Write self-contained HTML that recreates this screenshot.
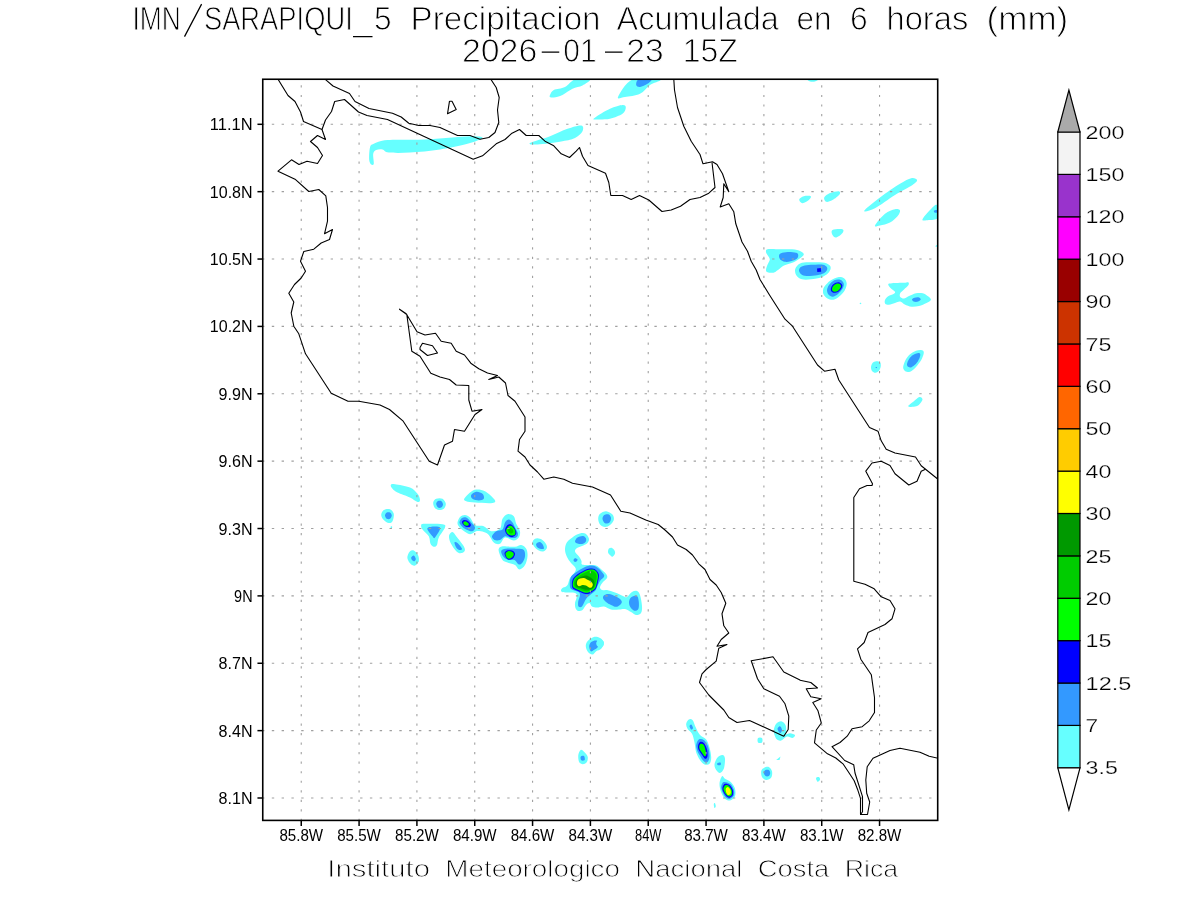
<!DOCTYPE html>
<html><head><meta charset="utf-8"><title>IMN SARAPIQUI_5</title>
<style>
html,body{margin:0;padding:0;background:#fff}
body{width:1200px;height:900px;overflow:hidden}
svg{display:block}
text{font-family:"Liberation Sans",sans-serif}
.t{fill:#000;stroke:#fff;stroke-width:.95px}
.a{fill:#000}
.c{fill:#000;stroke:#fff;stroke-width:.25px}
.f{fill:#000;stroke:#fff;stroke-width:.85px}
</style></head><body>
<svg width="1200" height="900" viewBox="0 0 1200 900">
<rect width="1200" height="900" fill="#fff"/>
<defs><clipPath id="m"><rect x="262.75" y="79.25" width="674.95" height="741.15"/></clipPath></defs>
<g clip-path="url(#m)" stroke="none">
<path fill="#66ffff" d="M370.0,147.5C370.8,144.8 370.8,145.0 373.8,143.8C376.7,142.5 379.0,140.7 387.5,140.0C396.0,139.3 411.2,140.1 425.0,139.5C438.8,138.9 460.4,136.5 470.0,136.2C479.6,136.0 482.9,136.8 482.5,138.0C482.1,139.2 474.6,141.8 467.5,143.8C460.4,145.7 449.6,148.0 440.0,149.5C430.4,151.0 418.5,152.0 410.0,152.5C401.5,153.0 393.3,153.0 388.8,152.5C384.2,152.0 384.6,149.9 382.5,149.5C380.4,149.1 377.8,149.3 376.2,150.0C374.7,150.7 373.7,151.5 373.2,153.8C372.8,156.0 374.1,162.0 373.8,163.8C373.4,165.5 372.0,165.1 371.2,164.5C370.5,163.9 369.5,162.8 369.2,160.0C369.0,157.2 369.2,150.2 370.0,147.5Z"/>
<path fill="#66ffff" d="M550.0,95.0C550.6,93.8 551.2,91.3 553.8,90.0C556.2,88.7 561.5,88.8 565.0,87.0C568.5,85.2 570.8,80.8 575.0,79.5C579.2,78.2 588.8,78.5 590.0,79.5C591.2,80.5 585.4,84.0 582.5,85.5C579.6,87.0 575.8,87.2 572.5,88.8C569.2,90.3 565.6,93.5 562.5,95.0C559.4,96.5 555.8,97.2 553.8,97.5C551.7,97.8 550.6,97.4 550.0,97.0C549.4,96.6 549.4,96.2 550.0,95.0Z"/>
<path fill="#66ffff" d="M618.0,97.0C619.2,94.1 625.5,82.4 632.5,79.5C639.5,76.6 657.1,78.6 660.0,79.5C662.9,80.4 653.3,82.6 650.0,85.0C646.7,87.4 644.2,91.8 640.0,93.8C635.8,95.8 628.7,96.5 625.0,97.0C621.3,97.5 616.8,99.9 618.0,97.0Z"/>
<path fill="#3399ff" d="M636.2,85.0C636.0,83.8 636.2,80.4 638.8,79.5C641.2,78.6 649.8,78.8 651.2,79.5C652.7,80.2 649.4,82.5 647.5,83.8C645.6,85.0 641.9,86.8 640.0,87.0C638.1,87.2 636.5,86.2 636.2,85.0Z"/>
<path fill="#66ffff" d="M594.5,118.0C596.8,116.2 605.3,110.9 610.0,108.8C614.7,106.6 619.9,105.2 622.5,105.0C625.1,104.8 625.8,106.0 625.8,107.5C625.8,109.0 625.1,111.9 622.5,113.8C619.9,115.6 614.4,117.8 610.0,118.8C605.6,119.7 598.8,119.6 596.2,119.5C593.7,119.4 592.2,119.8 594.5,118.0Z"/>
<path fill="#66ffff" d="M530.0,143.0C532.1,141.6 543.8,138.6 550.0,136.2C556.2,133.9 562.3,130.5 567.5,128.8C572.7,127.0 578.8,125.1 581.2,125.5C583.8,125.9 583.5,129.2 582.5,131.2C581.5,133.3 578.3,136.3 575.0,138.0C571.7,139.7 568.8,140.2 562.5,141.2C556.2,142.3 542.9,144.2 537.5,144.5C532.1,144.8 527.9,144.4 530.0,143.0Z"/>
<path fill="#66ffff" d="M808.0,79.5C809.2,79.2 816.3,79.2 817.5,79.5C818.7,79.8 816.2,81.2 815.0,81.5C813.8,81.8 811.2,81.8 810.0,81.5C808.8,81.2 806.8,79.8 808.0,79.5Z"/>
<path fill="#66ffff" d="M799.2,199.5C799.5,198.3 801.8,196.8 803.8,196.2C805.7,195.7 809.9,195.6 810.8,196.2C811.6,196.9 810.1,198.8 808.8,200.0C807.4,201.2 804.1,203.3 802.5,203.2C800.9,203.2 799.0,200.7 799.2,199.5Z"/>
<path fill="#66ffff" d="M824.2,197.5C824.9,196.0 827.6,194.0 830.0,193.0C832.4,192.0 837.2,191.0 838.8,191.2C840.3,191.5 840.5,193.0 839.5,194.5C838.5,196.0 834.7,198.8 832.5,200.0C830.3,201.2 827.6,202.2 826.2,201.8C824.9,201.3 823.6,199.0 824.2,197.5Z"/>
<path fill="#66ffff" d="M864.2,210.8C865.1,209.0 874.0,202.0 880.0,197.5C886.0,193.0 894.8,187.0 900.0,183.8C905.2,180.5 908.4,178.9 911.2,178.2C914.1,177.6 916.8,178.9 917.0,180.0C917.2,181.1 916.2,182.5 912.5,185.0C908.8,187.5 901.2,191.1 895.0,195.0C888.8,198.9 880.1,205.6 875.0,208.2C869.9,210.9 863.4,212.5 864.2,210.8Z"/>
<path fill="#66ffff" d="M875.0,225.5C875.8,223.5 881.7,216.5 885.0,213.8C888.3,211.0 892.5,209.8 895.0,209.2C897.5,208.7 899.6,209.3 900.0,210.5C900.4,211.7 899.2,214.2 897.5,216.2C895.8,218.2 892.9,221.0 890.0,222.5C887.1,224.0 882.5,225.0 880.0,225.5C877.5,226.0 874.2,227.5 875.0,225.5Z"/>
<path fill="#66ffff" d="M922.5,219.2C923.3,217.0 931.2,208.4 933.8,206.2C936.2,204.1 936.9,204.3 937.5,206.2C938.1,208.2 939.0,215.7 937.5,218.0C936.0,220.3 931.2,219.8 928.8,220.0C926.2,220.2 921.7,221.5 922.5,219.2Z"/>
<path fill="#3399ff" d="M934.0,210.5C934.4,210.1 936.5,209.7 937.0,210.0C937.5,210.3 937.4,212.1 937.0,212.5C936.6,212.9 935.0,212.8 934.5,212.5C934.0,212.2 933.6,210.9 934.0,210.5Z"/>
<path fill="#66ffff" d="M832.5,230.0C834.2,229.0 840.8,228.8 842.5,229.2C844.2,229.8 843.5,231.6 842.5,233.0C841.5,234.4 837.9,237.2 836.2,237.5C834.6,237.8 833.1,236.2 832.5,235.0C831.9,233.8 830.8,231.0 832.5,230.0Z"/>
<path fill="#66ffff" d="M935.0,246.2 L937.5,244.5 L937.5,247.0Z"/>
<path fill="#66ffff" d="M908.2,406.2C908.2,405.3 911.9,402.8 913.8,401.2C915.6,399.7 918.0,397.3 919.5,397.0C921.0,396.7 922.6,398.2 922.5,399.5C922.4,400.8 920.2,403.8 918.8,405.0C917.3,406.2 915.5,406.5 913.8,406.8C912.0,407.0 908.2,407.2 908.2,406.2Z"/>
<path fill="#66ffff" d="M766.0,252.0C766.0,251.1 765.5,249.8 767.5,249.3C769.5,248.9 773.9,249.3 778.0,249.3C782.1,249.3 788.5,249.0 792.2,249.3C796.0,249.6 798.6,250.4 800.5,251.2C802.4,252.1 803.8,253.1 803.8,254.2C803.8,255.4 802.3,256.6 800.5,258.0C798.7,259.4 795.8,261.2 793.0,262.5C790.2,263.8 786.5,264.2 784.0,265.5C781.5,266.8 779.8,268.8 778.0,270.0C776.2,271.2 775.2,272.3 773.5,272.7C771.8,273.1 768.8,272.7 767.5,272.2C766.2,271.8 766.0,271.2 766.0,270.0C766.0,268.8 766.9,266.5 767.5,264.8C768.1,263.0 769.8,261.1 769.8,259.5C769.8,257.9 768.1,256.2 767.5,255.0C766.9,253.8 766.0,252.9 766.0,252.0Z"/>
<path fill="#3399ff" d="M779.0,255.8C779.2,254.7 779.5,253.8 781.0,253.2C782.5,252.6 785.2,252.1 787.8,252.0C790.2,251.9 794.2,252.2 796.0,252.8C797.8,253.2 798.1,254.0 798.2,255.0C798.4,256.0 798.0,257.7 796.8,258.8C795.5,259.8 792.8,260.8 790.8,261.3C788.8,261.8 786.5,262.1 784.8,261.8C783.0,261.4 781.2,260.5 780.2,259.5C779.3,258.5 778.9,256.8 779.0,255.8Z"/>
<path fill="#66ffff" d="M795.0,270.8C795.0,269.1 795.6,267.6 796.8,266.2C797.9,264.9 799.1,263.5 802.0,262.8C804.9,262.1 810.2,262.2 814.0,262.2C817.8,262.2 821.9,262.2 824.5,262.8C827.1,263.4 828.8,264.4 829.8,265.5C830.8,266.6 830.9,267.9 830.5,269.2C830.1,270.6 829.0,272.4 827.5,273.8C826.0,275.1 824.2,276.3 821.5,277.2C818.8,278.1 814.2,278.9 811.0,279.3C807.8,279.7 804.4,279.9 802.0,279.3C799.6,278.8 797.9,277.4 796.8,276.0C795.6,274.6 795.0,272.4 795.0,270.8Z"/>
<path fill="#3399ff" d="M799.0,270.8C798.9,269.6 799.5,267.9 800.8,267.0C802.0,266.1 804.0,265.6 806.5,265.2C809.0,264.8 812.8,264.8 815.5,264.8C818.2,264.7 821.1,264.4 823.0,264.8C824.9,265.1 826.1,266.1 826.8,267.0C827.4,267.9 827.5,268.9 827.0,270.0C826.5,271.1 825.4,272.4 823.8,273.3C822.1,274.2 819.9,274.8 817.0,275.2C814.1,275.7 809.1,276.2 806.5,276.0C803.9,275.8 802.5,275.1 801.2,274.2C800.0,273.3 799.1,271.9 799.0,270.8Z"/>
<path fill="#0000ff" d="M817.0,268.5 L820.8,268.1 L821.2,271.8 L817.3,271.9Z"/>
<path fill="#66ffff" d="M823.0,291.0C823.1,289.6 823.2,288.2 824.5,286.5C825.8,284.8 828.2,282.1 830.5,280.5C832.8,278.9 835.8,277.6 838.0,277.2C840.2,276.8 842.5,277.2 844.0,278.2C845.5,279.3 846.6,281.5 846.7,283.5C846.8,285.5 846.0,288.1 844.8,290.2C843.5,292.4 841.4,294.7 839.5,296.2C837.6,297.8 835.5,299.3 833.5,299.7C831.5,300.1 829.1,299.3 827.5,298.5C825.9,297.7 824.5,296.0 823.8,294.8C823.0,293.5 822.9,292.4 823.0,291.0Z"/>
<path fill="#3399ff" d="M827.0,290.2C827.1,288.6 827.8,286.7 829.0,285.0C830.2,283.3 832.4,281.1 834.2,280.2C836.1,279.3 838.7,279.2 840.2,279.8C841.8,280.3 843.3,282.0 843.7,283.5C844.1,285.0 843.5,287.0 842.5,288.8C841.5,290.5 839.6,292.7 838.0,294.0C836.4,295.3 834.3,296.6 832.8,296.7C831.2,296.8 829.7,295.8 828.7,294.8C827.8,293.7 827.0,291.9 827.0,290.2Z"/>
<path fill="#0000ff" d="M830.8,289.5C830.8,288.5 831.2,286.9 832.0,285.8C832.8,284.6 834.5,283.3 835.8,282.8C837.0,282.2 838.4,282.1 839.5,282.4C840.6,282.8 841.9,284.0 842.2,285.0C842.5,286.0 842.1,287.2 841.5,288.3C840.8,289.4 839.5,291.0 838.3,291.8C837.1,292.5 835.4,292.8 834.2,292.8C833.1,292.8 832.3,292.3 831.7,291.8C831.1,291.2 830.8,290.5 830.8,289.5Z"/>
<path fill="#00ff00" d="M832.0,289.2C832.1,288.4 832.3,287.1 833.0,286.2C833.8,285.3 835.2,284.2 836.2,283.8C837.2,283.4 838.4,283.5 839.2,283.8C840.0,284.1 840.8,285.0 841.0,285.8C841.2,286.5 840.8,287.4 840.2,288.3C839.7,289.2 838.7,290.4 837.7,291.0C836.8,291.6 835.4,291.8 834.5,291.8C833.7,291.8 833.0,291.4 832.6,291.0C832.2,290.6 831.9,290.0 832.0,289.2Z"/>
<path fill="#66ffff" d="M888.2,284.2C888.5,283.4 889.4,283.4 892.0,283.2C894.6,282.9 901.3,282.9 904.0,282.8C906.7,282.6 907.5,281.9 908.2,282.3C909.0,282.7 909.2,283.8 908.5,285.0C907.8,286.2 905.4,288.1 904.0,289.5C902.6,290.9 900.9,292.0 900.2,293.2C899.6,294.5 899.6,296.1 900.2,297.0C900.9,297.9 902.6,298.6 904.0,298.5C905.4,298.4 906.5,297.1 908.5,296.2C910.5,295.4 913.6,293.8 916.0,293.2C918.4,292.8 920.8,292.8 922.8,293.2C924.8,293.8 926.6,295.2 928.0,296.2C929.4,297.3 931.2,298.6 931.0,299.7C930.8,300.8 928.5,301.9 926.5,303.0C924.5,304.1 921.5,305.4 919.0,306.0C916.5,306.6 913.9,307.0 911.5,306.8C909.1,306.5 906.6,305.4 904.8,304.5C902.9,303.6 901.9,301.8 900.2,301.5C898.6,301.2 896.9,302.4 895.0,303.0C893.1,303.6 890.6,304.7 889.0,304.8C887.4,304.9 885.9,304.6 885.2,303.8C884.6,302.9 884.5,301.2 885.0,300.0C885.5,298.8 886.8,297.2 888.2,296.2C889.7,295.2 892.4,294.8 893.5,294.0C894.6,293.2 895.5,292.8 895.0,291.8C894.5,290.8 891.6,289.2 890.5,288.0C889.4,286.8 888.0,285.1 888.2,284.2Z"/>
<path fill="#3399ff" d="M912.0,299.7C912.0,299.0 913.5,298.1 914.5,297.8C915.5,297.4 917.2,297.1 918.2,297.3C919.3,297.6 920.8,298.6 920.8,299.2C920.8,299.9 919.3,301.1 918.2,301.5C917.2,301.9 915.5,302.1 914.5,301.8C913.5,301.5 912.0,300.4 912.0,299.7Z"/>
<path fill="#66ffff" d="M859.9,302.9C860.1,302.7 860.9,302.7 861.1,302.9C861.3,303.1 861.3,303.9 861.1,304.1C860.9,304.2 860.1,304.2 859.9,304.1C859.7,303.9 859.7,303.1 859.9,302.9Z"/>
<path fill="#66ffff" d="M871.0,367.5C871.0,366.1 871.6,364.1 872.5,363.0C873.4,361.9 875.0,361.3 876.2,361.2C877.5,361.1 879.2,361.4 880.0,362.2C880.8,363.1 880.9,364.6 880.8,366.0C880.6,367.4 880.1,369.4 879.2,370.5C878.4,371.6 876.7,372.6 875.5,372.8C874.3,372.9 873.0,372.1 872.2,371.2C871.5,370.4 871.0,368.9 871.0,367.5Z"/>
<path fill="#3399ff" d="M875.8,367.1C876.0,366.9 876.7,366.9 876.9,367.1C877.0,367.2 877.0,367.9 876.9,368.1C876.7,368.3 876.0,368.3 875.8,368.1C875.6,367.9 875.6,367.2 875.8,367.1Z"/>
<path fill="#66ffff" d="M903.2,366.8C903.5,365.1 904.4,362.1 905.5,360.0C906.6,357.9 908.2,355.9 910.0,354.3C911.8,352.8 914.0,351.4 916.0,350.7C918.0,350.0 920.7,349.9 922.0,350.2C923.3,350.6 923.8,351.1 923.8,352.5C923.8,353.9 923.0,356.4 922.0,358.5C921.0,360.6 919.1,363.2 917.5,365.2C915.9,367.2 913.9,369.4 912.2,370.5C910.6,371.6 909.1,372.1 907.8,372.0C906.4,371.9 905.0,371.1 904.3,370.2C903.5,369.3 903.0,368.4 903.2,366.8Z"/>
<path fill="#3399ff" d="M907.0,364.5C907.0,363.4 907.6,361.5 908.5,360.0C909.4,358.5 910.8,356.6 912.2,355.5C913.8,354.4 916.2,353.5 917.5,353.2C918.8,353.0 919.9,353.1 920.2,354.0C920.5,354.9 920.0,356.9 919.3,358.5C918.6,360.1 917.3,362.3 916.0,363.8C914.7,365.2 912.8,366.7 911.5,367.2C910.2,367.7 909.0,367.2 908.2,366.8C907.5,366.3 907.0,365.6 907.0,364.5Z"/>
<path fill="#66ffff" d="M390.8,485.0C391.2,484.2 391.8,483.8 395.0,484.2C398.2,484.7 406.2,485.9 410.0,487.5C413.8,489.1 415.8,491.7 417.5,493.8C419.2,495.8 420.0,498.6 420.0,500.0C420.0,501.4 419.2,502.4 417.5,502.0C415.8,501.6 413.3,499.1 410.0,497.5C406.7,495.9 400.4,494.0 397.5,492.5C394.6,491.0 393.6,490.0 392.5,488.8C391.4,487.5 390.3,485.8 390.8,485.0Z"/>
<path fill="#66ffff" d="M433.2,502.5C433.5,501.0 434.7,499.4 436.2,498.8C437.8,498.1 440.9,497.9 442.5,498.8C444.1,499.6 445.5,502.1 445.8,503.8C446.0,505.4 444.9,507.7 443.8,508.8C442.6,509.8 440.3,510.2 438.8,510.0C437.2,509.8 435.4,508.8 434.5,507.5C433.6,506.2 433.0,504.0 433.2,502.5Z"/>
<path fill="#3399ff" d="M436.2,503.8C436.2,502.7 437.1,501.4 438.0,501.0C438.9,500.6 440.7,500.7 441.5,501.2C442.3,501.8 443.0,503.5 443.0,504.5C443.0,505.5 442.1,507.0 441.2,507.5C440.4,508.0 438.8,508.1 438.0,507.5C437.2,506.9 436.2,504.8 436.2,503.8Z"/>
<path fill="#66ffff" d="M464.2,498.8C464.9,497.3 468.0,494.0 470.0,492.5C472.0,491.0 473.8,489.7 476.2,489.5C478.8,489.3 482.0,489.6 485.0,491.2C488.0,492.9 493.2,497.5 494.5,499.5C495.8,501.5 495.8,502.5 492.5,503.0C489.2,503.5 479.4,502.8 475.0,502.5C470.6,502.2 468.0,501.9 466.2,501.2C464.5,500.6 463.6,500.2 464.2,498.8Z"/>
<path fill="#3399ff" d="M471.2,495.0C471.9,493.8 474.4,492.0 476.2,491.8C478.1,491.5 481.2,492.6 482.5,493.8C483.8,494.9 484.4,497.6 483.8,498.8C483.1,499.9 480.6,500.5 478.8,500.5C476.9,500.5 473.8,499.7 472.5,498.8C471.2,497.8 470.6,496.2 471.2,495.0Z"/>
<path fill="#66ffff" d="M381.2,515.0C381.2,513.3 382.3,511.0 383.8,510.0C385.2,509.0 388.3,508.6 390.0,509.2C391.7,509.9 393.3,511.8 393.8,513.8C394.2,515.8 393.3,519.7 392.5,521.2C391.7,522.8 390.2,523.2 388.8,523.0C387.3,522.8 385.0,521.3 383.8,520.0C382.5,518.7 381.2,516.7 381.2,515.0Z"/>
<path fill="#3399ff" d="M385.0,515.5C385.0,514.5 385.9,513.0 386.8,512.5C387.6,512.0 389.2,512.0 390.0,512.5C390.8,513.0 391.8,514.5 391.8,515.5C391.8,516.5 390.8,518.2 390.0,518.8C389.2,519.3 387.6,519.3 386.8,518.8C385.9,518.2 385.0,516.5 385.0,515.5Z"/>
<path fill="#66ffff" d="M390.8,526.5C391.0,526.2 391.8,526.2 392.0,526.5C392.2,526.8 392.2,527.8 392.0,528.0C391.8,528.2 391.0,528.2 390.8,528.0C390.5,527.8 390.5,526.8 390.8,526.5Z"/>
<path fill="#66ffff" d="M421.2,525.0C421.7,524.0 421.5,523.9 425.0,523.8C428.5,523.6 439.2,523.6 442.5,524.2C445.8,524.9 445.6,525.3 445.0,527.5C444.4,529.7 440.1,534.6 438.8,537.5C437.4,540.4 437.8,543.5 437.0,545.0C436.2,546.5 434.8,547.0 433.8,546.8C432.7,546.5 431.3,545.5 430.5,543.8C429.7,542.0 430.1,538.6 428.8,536.2C427.4,533.9 423.8,531.4 422.5,529.5C421.2,527.6 420.8,526.0 421.2,525.0Z"/>
<path fill="#3399ff" d="M427.5,528.0C428.8,526.5 438.8,525.9 440.0,527.5C441.2,529.1 436.2,536.0 435.0,537.5C433.8,539.0 433.8,537.8 432.5,536.2C431.2,534.7 426.2,529.5 427.5,528.0Z"/>
<path fill="#66ffff" d="M449.2,535.0C449.8,533.7 451.3,531.8 452.5,532.0C453.7,532.2 454.4,533.9 456.2,536.2C458.1,538.6 462.4,543.8 463.8,546.2C465.1,548.8 465.3,550.1 464.5,551.2C463.7,552.4 460.8,553.8 458.8,553.0C456.8,552.2 454.0,548.4 452.5,546.2C451.0,544.1 450.0,541.9 449.5,540.0C449.0,538.1 448.8,536.3 449.2,535.0Z"/>
<path fill="#3399ff" d="M454.5,542.5C454.7,541.8 456.2,542.0 457.5,543.0C458.8,544.0 461.7,547.6 462.0,548.8C462.3,549.9 460.5,550.2 459.5,550.0C458.5,549.8 457.1,548.8 456.2,547.5C455.4,546.2 454.3,543.2 454.5,542.5Z"/>
<path fill="#66ffff" d="M407.5,556.2C407.8,554.8 409.0,552.2 410.0,551.2C411.0,550.3 412.4,549.9 413.8,550.5C415.1,551.1 417.2,553.2 418.0,555.0C418.8,556.8 419.2,559.5 418.8,561.2C418.2,563.0 416.2,565.0 415.0,565.5C413.8,566.0 412.4,565.4 411.2,564.5C410.1,563.6 408.6,561.4 408.0,560.0C407.4,558.6 407.2,557.7 407.5,556.2Z"/>
<path fill="#3399ff" d="M411.2,557.5C411.5,556.8 413.0,555.3 413.8,555.5C414.5,555.7 415.6,557.8 415.8,558.8C415.9,559.7 415.1,561.0 414.5,561.2C413.9,561.5 412.5,560.6 412.0,560.0C411.5,559.4 411.0,558.2 411.2,557.5Z"/>
<path fill="#66ffff" d="M457.5,522.5C457.7,521.0 458.8,518.2 460.0,517.0C461.2,515.8 463.3,514.9 465.0,515.0C466.7,515.1 468.3,515.8 470.0,517.5C471.7,519.2 472.7,523.5 475.0,525.0C477.3,526.5 481.0,525.2 483.8,526.2C486.5,527.3 488.5,530.8 491.2,531.2C494.0,531.7 498.1,530.8 500.0,528.8C501.9,526.7 501.2,521.2 502.5,518.8C503.8,516.3 505.6,514.7 507.5,514.2C509.4,513.8 512.3,514.7 513.8,516.2C515.2,517.8 515.2,521.2 516.2,523.8C517.3,526.2 519.6,529.0 520.0,531.2C520.4,533.5 519.8,536.0 518.8,537.5C517.7,539.0 516.0,540.5 513.8,540.5C511.5,540.5 507.3,537.0 505.0,537.5C502.7,538.0 501.9,542.9 500.0,543.8C498.1,544.6 495.6,544.0 493.8,542.5C491.9,541.0 490.4,536.8 488.8,535.0C487.1,533.2 485.8,532.6 483.8,532.0C481.7,531.4 478.5,530.9 476.2,531.2C474.0,531.6 472.3,534.5 470.0,534.2C467.7,534.0 464.4,531.3 462.5,530.0C460.6,528.7 459.6,527.5 458.8,526.2C457.9,525.0 457.3,524.0 457.5,522.5Z"/>
<path fill="#3399ff" d="M459.5,522.5C459.4,521.0 460.9,518.8 462.0,518.0C463.1,517.2 464.7,516.8 466.2,517.5C467.8,518.2 469.8,520.8 471.2,522.5C472.7,524.2 474.8,526.0 475.0,527.5C475.2,529.0 473.8,530.8 472.5,531.2C471.2,531.7 469.2,530.7 467.5,530.0C465.8,529.3 463.8,528.2 462.5,527.0C461.2,525.8 459.6,524.0 459.5,522.5Z"/>
<path fill="#0000ff" d="M462.0,522.5C461.8,521.5 462.8,520.3 463.8,520.0C464.7,519.7 466.3,520.0 467.5,520.8C468.7,521.5 470.4,523.5 470.8,524.5C471.1,525.5 470.5,526.7 469.5,527.0C468.5,527.3 466.2,527.0 465.0,526.2C463.8,525.5 462.2,523.5 462.0,522.5Z"/>
<path fill="#00ff00" d="M463.2,522.5C463.4,521.9 464.6,521.0 465.5,521.2C466.4,521.5 468.4,523.0 468.8,523.8C469.1,524.5 468.2,525.5 467.5,525.8C466.8,526.0 465.2,525.5 464.5,525.0C463.8,524.5 463.1,523.1 463.2,522.5Z"/>
<path fill="#3399ff" d="M492.0,536.2C492.3,534.8 494.5,532.4 496.2,531.2C498.0,530.1 501.0,531.0 502.5,529.5C504.0,528.0 504.0,524.2 505.0,522.5C506.0,520.8 507.5,519.5 508.8,519.5C510.0,519.5 511.5,521.2 512.5,522.5C513.5,523.8 514.1,525.6 515.0,527.5C515.9,529.4 517.8,532.1 518.0,533.8C518.2,535.4 517.4,536.8 516.2,537.5C515.1,538.2 513.1,538.2 511.2,538.0C509.4,537.8 506.9,535.9 505.0,536.2C503.1,536.6 501.8,539.4 500.0,540.0C498.2,540.6 495.8,540.6 494.5,540.0C493.2,539.4 491.7,537.7 492.0,536.2Z"/>
<path fill="#0000ff" d="M505.0,530.0C505.0,528.3 506.5,525.9 507.5,525.0C508.5,524.1 510.0,523.9 511.2,524.5C512.5,525.1 514.2,527.2 515.0,528.8C515.8,530.3 516.7,532.4 516.2,533.8C515.8,535.1 514.0,536.8 512.5,537.0C511.0,537.2 508.8,536.2 507.5,535.0C506.2,533.8 505.0,531.7 505.0,530.0Z"/>
<path fill="#00ff00" d="M506.2,530.0C506.5,528.8 507.8,526.9 508.8,526.2C509.7,525.6 511.0,525.6 512.0,526.2C513.0,526.9 514.5,528.6 515.0,530.0C515.5,531.4 515.6,533.6 515.0,534.5C514.4,535.4 512.5,535.6 511.2,535.5C510.0,535.4 508.3,534.7 507.5,533.8C506.7,532.8 506.0,531.2 506.2,530.0Z"/>
<path fill="#00cc00" d="M508.2,530.0C508.4,529.2 509.3,528.2 510.0,528.0C510.7,527.8 512.0,528.3 512.5,529.0C513.0,529.7 513.5,531.2 513.2,532.0C513.0,532.8 512.0,533.4 511.2,533.5C510.5,533.6 509.5,533.1 509.0,532.5C508.5,531.9 508.1,530.8 508.2,530.0Z"/>
<path fill="#66ffff" d="M498.8,548.8C499.2,547.5 499.8,546.6 502.5,546.2C505.2,545.9 511.9,547.0 515.0,546.8C518.1,546.5 519.4,544.7 521.2,545.0C523.1,545.3 525.2,546.9 526.2,548.8C527.3,550.6 527.7,553.5 527.5,556.2C527.3,559.0 526.3,562.8 525.0,565.0C523.7,567.2 521.2,569.5 519.5,569.5C517.8,569.5 517.0,566.2 515.0,565.0C513.0,563.8 509.6,563.3 507.5,562.5C505.4,561.7 503.8,561.5 502.5,560.0C501.2,558.5 500.1,555.6 499.5,553.8C498.9,551.9 498.2,550.0 498.8,548.8Z"/>
<path fill="#3399ff" d="M501.2,551.2C501.6,550.0 502.3,549.2 505.0,548.8C507.7,548.3 514.4,548.5 517.5,548.8C520.6,549.0 522.5,548.8 523.8,550.0C525.0,551.2 525.2,554.2 525.0,556.2C524.8,558.3 523.5,561.1 522.5,562.5C521.5,563.9 520.1,564.9 518.8,564.5C517.4,564.1 516.4,560.8 514.5,560.0C512.6,559.2 509.4,560.1 507.5,559.5C505.6,558.9 504.0,557.6 503.0,556.2C502.0,554.9 500.9,552.5 501.2,551.2Z"/>
<path fill="#0000ff" d="M504.5,553.8C504.4,552.3 505.8,551.0 507.0,550.5C508.2,550.0 510.7,550.0 512.0,550.5C513.3,551.0 514.9,552.4 515.0,553.8C515.1,555.1 513.8,557.8 512.5,558.8C511.2,559.7 508.8,560.1 507.5,559.2C506.2,558.4 504.6,555.2 504.5,553.8Z"/>
<path fill="#00ff00" d="M505.5,553.8C505.6,552.6 506.9,551.6 508.0,551.2C509.1,550.9 511.0,551.2 512.0,551.8C513.0,552.3 513.9,553.5 513.8,554.5C513.6,555.5 512.3,557.4 511.2,558.0C510.2,558.6 508.5,559.0 507.5,558.2C506.5,557.5 505.4,554.9 505.5,553.8Z"/>
<path fill="#66ffff" d="M532.5,542.5C532.6,541.1 533.8,539.4 535.0,538.8C536.2,538.1 538.3,538.1 540.0,538.8C541.7,539.4 543.8,541.0 545.0,542.5C546.2,544.0 547.2,546.0 547.0,547.5C546.8,549.0 545.1,550.8 543.8,551.2C542.4,551.8 540.3,551.2 538.8,550.5C537.2,549.8 535.5,548.3 534.5,547.0C533.5,545.7 532.4,543.9 532.5,542.5Z"/>
<path fill="#3399ff" d="M536.2,543.8C536.8,542.9 538.9,541.8 540.0,542.0C541.1,542.2 542.4,543.9 543.0,545.0C543.6,546.1 544.2,548.1 543.8,548.8C543.2,549.4 541.1,549.0 540.0,548.8C538.9,548.5 537.6,547.8 537.0,547.0C536.4,546.2 535.8,544.6 536.2,543.8Z"/>
<path fill="#66ffff" d="M598.2,518.8C598.2,517.0 598.7,515.0 600.0,513.8C601.3,512.5 604.2,511.1 606.2,511.2C608.3,511.4 611.2,513.0 612.5,514.5C613.8,516.0 614.2,518.2 613.8,520.0C613.3,521.8 611.5,523.8 610.0,525.0C608.5,526.2 606.7,527.1 605.0,527.0C603.3,526.9 601.1,525.9 600.0,524.5C598.9,523.1 598.2,520.5 598.2,518.8Z"/>
<path fill="#3399ff" d="M602.5,518.8C602.4,517.4 603.2,515.7 604.2,515.0C605.3,514.3 607.6,514.0 608.8,514.5C609.9,515.0 610.9,516.7 611.0,518.0C611.1,519.3 610.5,521.6 609.5,522.5C608.5,523.4 606.2,523.9 605.0,523.2C603.8,522.6 602.6,520.1 602.5,518.8Z"/>
<path fill="#66ffff" d="M608.0,551.5C608.1,550.7 608.3,549.1 609.0,548.5C609.7,547.9 611.1,547.7 612.0,548.0C612.9,548.3 614.0,549.6 614.5,550.5C615.0,551.4 615.3,552.5 615.0,553.5C614.7,554.5 613.2,556.5 612.5,556.8C611.8,557.1 611.2,556.0 610.5,555.5C609.8,555.0 608.9,554.2 608.5,553.5C608.1,552.8 607.9,552.3 608.0,551.5Z"/>
<path fill="#66ffff" d="M561.0,590.0C561.1,589.3 561.7,588.6 562.5,588.0C563.3,587.4 565.1,587.2 566.0,586.5C566.9,585.8 567.3,585.4 568.0,584.0C568.7,582.6 568.8,580.0 570.0,578.0C571.2,576.0 574.1,573.7 575.0,572.0C575.9,570.3 576.2,569.5 575.5,568.0C574.8,566.5 572.4,564.8 571.0,563.0C569.6,561.2 568.0,559.2 567.0,557.0C566.0,554.8 565.1,552.3 565.0,550.0C564.9,547.7 565.5,544.9 566.5,543.0C567.5,541.1 569.2,539.9 571.0,538.5C572.8,537.1 575.0,535.4 577.0,534.5C579.0,533.6 581.3,532.9 583.0,533.0C584.7,533.1 586.0,533.9 587.0,535.0C588.0,536.1 589.0,538.1 589.0,539.5C589.0,540.9 588.2,542.4 587.0,543.5C585.8,544.6 583.7,545.2 582.0,546.0C580.3,546.8 578.2,547.1 577.0,548.0C575.8,548.9 574.7,550.1 575.0,551.5C575.3,552.9 577.9,554.9 579.0,556.5C580.1,558.1 581.0,559.7 581.5,561.0C582.0,562.3 580.8,563.8 582.0,564.5C583.2,565.2 586.7,564.8 589.0,565.0C591.3,565.2 593.8,564.7 596.0,565.5C598.2,566.3 600.2,568.5 602.0,570.0C603.8,571.5 605.7,573.2 606.5,574.5C607.3,575.8 607.6,576.8 607.0,578.0C606.4,579.2 604.2,580.5 603.0,582.0C601.8,583.5 600.2,585.7 600.0,587.0C599.8,588.3 600.8,589.5 602.0,590.0C603.2,590.5 604.8,589.6 607.0,590.0C609.2,590.4 612.3,591.5 615.0,592.5C617.7,593.5 621.0,595.2 623.0,596.0C625.0,596.8 625.5,597.7 627.0,597.0C628.5,596.3 630.3,593.0 632.0,592.0C633.7,591.0 635.7,590.5 637.0,591.0C638.3,591.5 639.2,592.5 640.0,595.0C640.8,597.5 641.8,603.0 642.0,606.0C642.2,609.0 642.0,611.5 641.0,613.0C640.0,614.5 637.7,615.2 636.0,615.0C634.3,614.8 632.8,613.0 631.0,612.0C629.2,611.0 627.0,609.4 625.0,609.0C623.0,608.6 621.3,609.4 619.0,609.5C616.7,609.6 613.5,610.0 611.0,609.5C608.5,609.0 606.3,606.8 604.0,606.5C601.7,606.2 599.0,607.5 597.0,607.5C595.0,607.5 593.2,607.2 592.0,606.5C590.8,605.8 590.5,603.2 589.5,603.0C588.5,602.8 587.2,603.8 586.0,605.0C584.8,606.2 583.8,609.0 582.5,610.0C581.2,611.0 579.2,611.3 578.0,611.0C576.8,610.7 576.0,609.3 575.5,608.0C575.0,606.7 574.8,604.7 575.0,603.0C575.2,601.3 576.2,599.5 576.5,598.0C576.8,596.5 577.1,594.9 576.5,594.0C575.9,593.1 574.6,592.8 573.0,592.5C571.4,592.2 568.8,592.6 567.0,592.5C565.2,592.4 563.0,592.4 562.0,592.0C561.0,591.6 560.9,590.7 561.0,590.0Z"/>
<path fill="#3399ff" d="M575.0,541.5C575.0,540.5 576.2,538.4 577.5,537.5C578.8,536.6 581.6,535.8 583.0,536.0C584.4,536.2 585.6,537.5 586.0,538.5C586.4,539.5 586.2,541.1 585.5,542.0C584.8,542.9 583.3,543.8 582.0,544.0C580.7,544.2 578.7,543.9 577.5,543.5C576.3,543.1 575.0,542.5 575.0,541.5Z"/>
<path fill="#3399ff" d="M573.5,560.0C573.6,559.4 574.3,558.4 575.0,558.3C575.7,558.2 577.2,559.0 577.5,559.5C577.8,560.0 577.0,561.1 576.5,561.5C576.0,561.9 575.0,562.0 574.5,561.8C574.0,561.5 573.4,560.6 573.5,560.0Z"/>
<path fill="#3399ff" d="M570.0,587.0C569.6,585.0 569.7,580.3 570.5,578.0C571.3,575.7 572.6,574.8 575.0,573.0C577.4,571.2 582.2,568.2 585.0,567.0C587.8,565.8 589.8,565.3 592.0,565.5C594.2,565.7 596.1,566.6 598.0,568.0C599.9,569.4 602.5,572.5 603.5,574.0C604.5,575.5 604.4,575.8 603.8,577.0C603.2,578.2 601.1,579.3 600.0,581.0C598.9,582.7 597.8,585.3 597.0,587.0C596.2,588.7 596.2,589.7 595.0,591.0C593.8,592.3 591.5,593.7 590.0,595.0C588.5,596.3 587.3,597.1 586.0,599.0C584.7,600.9 583.2,605.2 582.0,606.5C580.8,607.8 579.1,607.3 578.5,606.5C577.9,605.7 578.0,603.4 578.2,601.5C578.5,599.6 580.0,596.6 580.0,595.0C580.0,593.4 579.7,592.8 578.5,592.0C577.3,591.2 574.4,590.8 573.0,590.0C571.6,589.2 570.4,589.0 570.0,587.0Z"/>
<path fill="#0000ff" d="M572.0,586.0C571.8,584.5 571.8,581.8 572.5,580.0C573.2,578.2 573.9,577.2 576.0,575.5C578.1,573.8 582.3,571.2 585.0,570.0C587.7,568.8 590.1,568.4 592.0,568.5C593.9,568.6 595.3,569.4 596.5,570.5C597.7,571.6 598.8,573.1 599.0,575.0C599.2,576.9 598.5,579.8 598.0,582.0C597.5,584.2 597.0,586.8 596.0,588.5C595.0,590.2 593.3,591.1 592.0,592.0C590.7,592.9 589.4,593.8 588.0,594.0C586.6,594.2 585.2,594.0 583.5,593.5C581.8,593.0 579.7,591.8 578.0,591.0C576.3,590.2 574.5,589.8 573.5,589.0C572.5,588.2 572.2,587.5 572.0,586.0Z"/>
<path fill="#00ff00" d="M572.8,585.5C572.6,584.2 572.9,582.0 573.5,580.5C574.1,579.0 574.6,578.1 576.5,576.5C578.4,574.9 582.4,572.2 585.0,571.0C587.6,569.8 590.2,569.5 592.0,569.5C593.8,569.5 595.0,570.2 596.0,571.2C597.0,572.2 597.8,573.7 598.0,575.5C598.2,577.3 597.5,579.9 597.0,582.0C596.5,584.1 596.1,586.5 595.2,588.0C594.3,589.5 592.8,590.2 591.5,591.0C590.2,591.8 588.8,592.6 587.5,592.8C586.2,593.0 585.0,592.7 583.5,592.2C582.0,591.7 580.0,590.7 578.5,590.0C577.0,589.3 575.5,588.8 574.5,588.0C573.5,587.2 573.0,586.8 572.8,585.5Z"/>
<path fill="#00cc00" d="M574.0,585.0C573.8,583.9 573.9,582.3 574.5,581.0C575.1,579.7 575.8,578.4 577.5,577.0C579.2,575.6 582.7,573.6 585.0,572.5C587.3,571.4 589.8,570.5 591.5,570.5C593.2,570.5 594.1,571.6 595.0,572.5C595.9,573.4 596.7,574.4 596.8,576.0C596.9,577.6 596.2,580.2 595.8,582.0C595.4,583.8 595.3,585.7 594.5,587.0C593.7,588.3 592.2,589.2 591.0,590.0C589.8,590.8 588.2,591.4 587.0,591.5C585.8,591.6 584.8,591.2 583.5,590.8C582.2,590.4 580.3,589.5 579.0,589.0C577.7,588.5 576.3,588.2 575.5,587.5C574.7,586.8 574.2,586.1 574.0,585.0Z"/>
<path fill="#009900" d="M575.5,584.5C575.4,583.6 575.5,582.1 576.0,581.0C576.5,579.9 577.0,578.9 578.5,578.0C580.0,577.1 583.2,575.8 585.0,575.5C586.8,575.2 587.6,575.8 589.0,576.5C590.4,577.2 592.6,578.8 593.5,580.0C594.4,581.2 594.5,582.8 594.5,584.0C594.5,585.2 594.2,586.6 593.5,587.5C592.8,588.4 591.6,588.8 590.5,589.2C589.4,589.6 588.2,589.8 587.0,589.8C585.8,589.8 584.8,589.5 583.5,589.2C582.2,588.9 580.7,588.2 579.5,587.8C578.3,587.3 577.2,587.0 576.5,586.5C575.8,586.0 575.6,585.4 575.5,584.5Z"/>
<path fill="#ffff00" d="M577.0,584.0C576.8,583.0 577.0,581.4 577.5,580.5C578.0,579.6 578.9,578.9 580.0,578.5C581.1,578.1 582.8,577.8 584.0,578.0C585.2,578.2 585.8,578.9 587.0,579.5C588.2,580.1 590.0,580.7 591.0,581.5C592.0,582.3 592.7,583.5 592.8,584.5C592.9,585.5 592.1,587.0 591.5,587.5C590.9,588.0 589.9,587.8 589.0,587.5C588.1,587.2 587.1,585.9 586.0,585.5C584.9,585.1 583.7,584.9 582.5,585.0C581.3,585.1 579.9,586.4 579.0,586.2C578.1,586.0 577.2,585.0 577.0,584.0Z"/>
<path fill="#3399ff" d="M603.0,598.0C602.8,596.8 603.5,595.7 604.5,595.0C605.5,594.3 607.2,593.8 609.0,594.0C610.8,594.2 613.2,595.2 615.0,596.0C616.8,596.8 618.9,598.0 620.0,599.0C621.1,600.0 621.8,601.0 621.8,602.0C621.8,603.0 621.0,604.2 620.0,605.0C619.0,605.8 617.5,606.8 616.0,606.8C614.5,606.8 612.7,605.8 611.0,605.0C609.3,604.2 607.3,603.2 606.0,602.0C604.7,600.8 603.2,599.2 603.0,598.0Z"/>
<path fill="#3399ff" d="M629.0,602.0C629.1,600.6 629.7,599.0 630.5,598.0C631.3,597.0 632.8,596.2 634.0,596.0C635.2,595.8 636.7,595.5 637.5,596.5C638.3,597.5 638.6,600.0 638.8,602.0C639.0,604.0 639.0,607.0 638.5,608.5C638.0,610.0 636.9,610.5 636.0,610.8C635.1,611.0 634.0,610.7 633.0,610.0C632.0,609.3 630.7,607.8 630.0,606.5C629.3,605.2 628.9,603.4 629.0,602.0Z"/>
<path fill="#66ffff" d="M585.8,646.2C585.7,644.5 586.2,642.8 587.5,641.2C588.8,639.7 591.7,637.5 593.8,637.0C595.8,636.5 598.3,637.1 600.0,638.0C601.7,638.9 603.5,640.7 603.8,642.5C604.0,644.3 602.5,647.3 601.2,648.8C600.0,650.2 597.7,650.3 596.2,651.2C594.8,652.2 593.9,654.4 592.5,654.5C591.1,654.6 589.1,653.4 588.0,652.0C586.9,650.6 585.8,648.0 585.8,646.2Z"/>
<path fill="#3399ff" d="M589.2,646.2C589.3,644.7 590.1,643.0 591.2,642.0C592.4,641.0 595.0,640.3 596.2,640.5C597.5,640.7 598.5,641.8 598.8,643.0C599.0,644.2 598.3,646.3 597.5,647.5C596.7,648.7 594.9,649.4 593.8,650.0C592.6,650.6 591.5,651.9 590.8,651.2C590.0,650.6 589.2,647.8 589.2,646.2Z"/>
<path fill="#66ffff" d="M578.3,755.0C578.6,753.1 579.7,750.6 580.7,750.0C581.6,749.4 582.8,750.6 584.0,751.7C585.2,752.8 587.2,754.9 587.7,756.7C588.1,758.4 587.5,761.1 586.7,762.3C585.8,763.6 583.9,764.4 582.7,764.3C581.4,764.2 579.7,763.2 579.0,761.7C578.3,760.1 578.1,756.9 578.3,755.0Z"/>
<path fill="#3399ff" d="M580.7,756.7C581.1,755.9 583.3,755.4 584.0,756.0C584.7,756.6 585.1,759.3 584.7,760.0C584.2,760.7 582.0,760.9 581.3,760.3C580.7,759.8 580.2,757.4 580.7,756.7Z"/>
<path fill="#66ffff" d="M596.2,643.2C596.3,642.2 597.2,640.6 598.0,640.0C598.8,639.4 600.3,639.2 601.2,639.5C602.2,639.8 603.4,641.0 603.8,642.0C604.1,643.0 604.0,644.6 603.5,645.5C603.0,646.4 601.8,647.4 600.8,647.5C599.8,647.6 598.2,647.0 597.5,646.2C596.8,645.5 596.2,644.3 596.2,643.2Z"/>
<path fill="#66ffff" d="M686.2,723.8C686.5,722.2 687.7,720.1 688.8,719.5C689.8,718.9 691.3,718.7 692.5,720.0C693.7,721.3 694.5,725.0 695.8,727.5C697.0,730.0 698.2,733.0 700.0,735.0C701.8,737.0 704.7,737.4 706.2,739.5C707.8,741.6 708.7,744.5 709.5,747.5C710.3,750.5 711.2,754.8 711.2,757.5C711.2,760.2 710.6,762.6 709.5,763.8C708.4,764.9 706.1,765.1 704.5,764.5C702.9,763.9 701.4,762.0 700.0,760.0C698.6,758.0 697.2,755.4 696.2,752.5C695.3,749.6 695.2,745.6 694.5,742.5C693.8,739.4 693.2,736.0 692.0,733.8C690.8,731.5 688.5,730.4 687.5,728.8C686.5,727.1 686.0,725.3 686.2,723.8Z"/>
<path fill="#3399ff" d="M689.5,726.2C689.5,725.4 690.7,724.2 691.2,724.5C691.8,724.8 693.0,727.2 693.0,728.0C693.0,728.8 691.8,729.8 691.2,729.5C690.7,729.2 689.5,727.1 689.5,726.2Z"/>
<path fill="#3399ff" d="M696.2,745.0C696.5,743.2 697.5,740.3 698.8,739.5C700.0,738.7 702.2,738.9 703.8,740.0C705.3,741.1 707.0,743.5 708.0,746.2C709.0,749.0 709.6,753.6 709.5,756.2C709.4,758.9 708.5,761.2 707.5,762.0C706.5,762.8 705.1,762.4 703.8,761.2C702.4,760.1 700.6,756.9 699.5,755.0C698.4,753.1 697.5,751.7 697.0,750.0C696.5,748.3 696.0,746.8 696.2,745.0Z"/>
<path fill="#0000ff" d="M698.0,746.2C698.2,744.9 699.0,742.5 700.0,742.0C701.0,741.5 702.6,741.9 703.8,743.0C704.9,744.1 706.1,746.5 706.8,748.8C707.4,751.0 707.8,754.6 707.5,756.2C707.2,757.9 706.0,759.2 705.0,758.8C704.0,758.3 702.3,755.2 701.2,753.8C700.2,752.3 699.3,751.2 698.8,750.0C698.2,748.8 697.8,747.6 698.0,746.2Z"/>
<path fill="#00ff00" d="M699.2,746.2C699.4,745.3 700.0,744.0 700.8,743.8C701.5,743.5 703.0,744.0 703.8,745.0C704.5,746.0 705.1,748.3 705.5,750.0C705.9,751.7 706.2,754.0 706.0,755.0C705.8,756.0 705.2,756.7 704.5,756.2C703.8,755.8 702.5,753.6 701.8,752.5C701.0,751.4 700.2,750.5 699.8,749.5C699.3,748.5 699.1,747.2 699.2,746.2Z"/>
<path fill="#66ffff" d="M714.5,764.5C714.7,762.4 716.2,759.1 717.5,757.5C718.8,755.9 721.2,754.8 722.5,755.0C723.8,755.2 724.8,756.5 725.0,758.8C725.2,761.0 724.6,766.4 723.8,768.8C722.9,771.1 721.2,772.8 720.0,773.0C718.8,773.2 717.2,771.4 716.2,770.0C715.3,768.6 714.3,766.6 714.5,764.5Z"/>
<path fill="#3399ff" d="M717.5,763.0C718.0,762.6 720.0,762.2 720.5,762.5C721.0,762.8 721.0,764.6 720.5,765.0C720.0,765.4 718.0,765.3 717.5,765.0C717.0,764.7 717.0,763.4 717.5,763.0Z"/>
<path fill="#66ffff" d="M719.5,783.8C719.6,781.0 721.1,777.1 722.0,776.2C722.9,775.4 723.5,777.7 725.0,778.8C726.5,779.8 729.6,780.8 731.2,782.5C732.9,784.2 734.4,786.5 735.0,788.8C735.6,791.0 735.8,794.3 735.0,796.2C734.2,798.2 731.7,800.1 730.0,800.5C728.3,800.9 726.5,800.1 725.0,798.8C723.5,797.4 722.2,795.0 721.2,792.5C720.3,790.0 719.4,786.5 719.5,783.8Z"/>
<path fill="#3399ff" d="M721.2,786.2C721.5,784.6 722.3,782.4 723.8,782.0C725.2,781.6 728.3,782.5 730.0,783.8C731.7,785.0 733.1,787.5 733.8,789.5C734.4,791.5 734.5,793.9 733.8,795.5C733.0,797.1 730.9,798.8 729.5,799.0C728.1,799.2 726.7,798.2 725.5,797.0C724.3,795.8 723.2,793.8 722.5,792.0C721.8,790.2 721.0,787.9 721.2,786.2Z"/>
<path fill="#0000ff" d="M722.5,787.5C722.8,786.2 723.8,784.2 725.0,783.8C726.2,783.3 728.2,784.0 729.5,785.0C730.8,786.0 732.2,788.3 732.8,790.0C733.3,791.7 733.3,793.7 732.8,795.0C732.2,796.3 730.4,797.6 729.2,797.8C728.1,797.9 727.0,796.8 726.0,795.8C725.0,794.7 723.8,792.9 723.2,791.5C722.7,790.1 722.2,788.8 722.5,787.5Z"/>
<path fill="#00ff00" d="M723.5,788.0C723.8,787.0 724.8,785.3 725.8,785.0C726.7,784.7 728.2,785.3 729.2,786.2C730.2,787.2 731.3,789.1 731.8,790.5C732.2,791.9 732.2,793.5 731.8,794.5C731.3,795.5 729.9,796.5 729.0,796.5C728.1,796.5 727.3,795.6 726.5,794.8C725.7,793.9 724.8,792.4 724.2,791.2C723.8,790.1 723.2,789.0 723.5,788.0Z"/>
<path fill="#ffff00" d="M725.8,788.8C726.0,787.8 727.2,786.8 728.0,787.0C728.8,787.2 730.1,788.9 730.5,790.0C730.9,791.1 730.9,792.9 730.5,793.8C730.1,794.6 728.7,795.2 728.0,795.0C727.3,794.8 726.6,793.5 726.2,792.5C725.9,791.5 725.5,789.7 725.8,788.8Z"/>
<path fill="#66ffff" d="M713.8,804.2C713.8,803.5 714.7,802.9 715.0,803.2C715.3,803.6 715.8,805.5 715.8,806.2C715.7,807.0 714.8,808.3 714.5,808.0C714.2,807.7 713.7,805.0 713.8,804.2Z"/>
<path fill="#66ffff" d="M761.2,771.2C761.5,769.8 762.5,768.7 763.8,768.0C765.0,767.3 767.4,766.5 768.8,767.0C770.1,767.5 771.6,769.5 772.0,771.2C772.4,773.0 772.2,776.0 771.2,777.5C770.3,779.0 767.8,780.1 766.2,780.0C764.7,779.9 762.8,778.5 762.0,777.0C761.2,775.5 761.0,772.8 761.2,771.2Z"/>
<path fill="#3399ff" d="M763.8,772.5C763.8,771.5 764.7,770.4 765.5,770.0C766.3,769.6 768.0,769.5 768.8,770.0C769.5,770.5 770.2,772.0 770.2,773.0C770.2,774.0 769.5,775.5 768.8,776.0C768.0,776.5 766.3,776.6 765.5,776.0C764.7,775.4 763.8,773.5 763.8,772.5Z"/>
<path fill="#66ffff" d="M758.0,738.0C758.7,737.2 761.3,737.2 762.0,738.0C762.7,738.8 762.7,741.8 762.0,742.5C761.3,743.2 758.7,743.2 758.0,742.5C757.3,741.8 757.3,738.8 758.0,738.0Z"/>
<path fill="#66ffff" d="M773.8,730.0C774.0,728.1 775.0,725.2 776.2,723.8C777.5,722.3 779.7,721.0 781.2,721.2C782.8,721.5 784.7,723.3 785.5,725.0C786.3,726.7 786.3,729.7 786.2,731.2C786.2,732.8 784.4,734.2 785.0,734.5C785.6,734.8 788.3,733.2 790.0,733.2C791.7,733.3 794.6,734.2 795.0,735.0C795.4,735.8 793.8,737.8 792.5,738.0C791.2,738.2 788.9,736.1 787.0,736.5C785.1,736.9 782.9,740.0 781.2,740.5C779.6,741.0 778.1,740.4 777.0,739.5C775.9,738.6 775.0,736.6 774.5,735.0C774.0,733.4 773.5,731.9 773.8,730.0Z"/>
<path fill="#3399ff" d="M777.5,728.8C777.5,727.6 779.2,726.0 780.0,726.2C780.8,726.5 782.0,728.9 782.0,730.0C782.0,731.1 780.8,733.2 780.0,733.0C779.2,732.8 777.5,729.9 777.5,728.8Z"/>
<path fill="#66ffff" d="M776.2,760.0 L780.5,756.5 L779.5,760.0Z"/>
<path fill="#66ffff" d="M816.2,778.0C816.5,777.2 818.1,776.8 818.8,777.0C819.4,777.2 820.2,778.7 820.0,779.5C819.8,780.3 818.1,782.0 817.5,781.8C816.9,781.5 816.0,778.8 816.2,778.0Z"/>
<path fill="#66ffff" d="M816.2,778.3C816.2,777.7 817.4,777.4 818.0,777.5C818.6,777.6 819.7,778.5 819.7,779.2C819.7,779.8 818.6,781.5 818.0,781.3C817.4,781.2 816.2,779.0 816.2,778.3Z"/>
</g>
<g stroke="#a0a0a0" stroke-width="1.1" fill="none" stroke-dasharray="2.2 7.325" stroke-dashoffset="-6.1">
<path d="M301.25,79.25 V820.4"/>
<path d="M359.08,79.25 V820.4"/>
<path d="M416.91,79.25 V820.4"/>
<path d="M474.74,79.25 V820.4"/>
<path d="M532.57,79.25 V820.4"/>
<path d="M590.40,79.25 V820.4"/>
<path d="M648.23,79.25 V820.4"/>
<path d="M706.06,79.25 V820.4"/>
<path d="M763.89,79.25 V820.4"/>
<path d="M821.72,79.25 V820.4"/>
<path d="M879.55,79.25 V820.4"/>
</g>
<g stroke="#a0a0a0" stroke-width="1.1" fill="none" stroke-dasharray="2.4 7.41" stroke-dashoffset="-9.05">
<path d="M262.75,124.30 H937.7"/>
<path d="M262.75,191.67 H937.7"/>
<path d="M262.75,259.04 H937.7"/>
<path d="M262.75,326.41 H937.7"/>
<path d="M262.75,393.78 H937.7"/>
<path d="M262.75,461.15 H937.7"/>
<path d="M262.75,528.52 H937.7"/>
<path d="M262.75,595.89 H937.7"/>
<path d="M262.75,663.26 H937.7"/>
<path d="M262.75,730.63 H937.7"/>
<path d="M262.75,798.00 H937.7"/>
</g>
<g clip-path="url(#m)" stroke="#000" stroke-width="1.1" fill="none" stroke-linejoin="round">
<polyline points="278.0,79.2 288.0,95.5 295.0,101.5 300.5,112.0 303.5,121.5 322.0,129.5 325.5,139.5 317.5,135.5 310.5,141.5 317.5,147.5 322.5,155.5 317.5,163.5 307.0,161.2 299.0,164.5 291.5,159.8 278.0,171.2 295.0,179.2 308.8,191.5 318.8,189.5 325.8,195.8 327.5,207.5 327.5,221.2 324.5,233.8 332.5,229.5 329.5,239.5 321.2,243.0 313.8,249.2 303.8,251.5 300.5,261.2 305.5,271.2 301.2,278.0 294.5,284.5 288.8,293.2 293.8,302.0 291.2,313.0 293.8,326.2 298.8,333.8 305.5,353.8 331.2,393.2 348.0,401.2 358.8,401.2 380.0,405.0 389.5,409.5 403.2,421.2 429.2,461.2 437.5,465.0 444.5,445.0 452.5,441.2 454.5,429.5 464.5,431.2 475.0,414.5 482.0,409.5 472.0,411.2 468.8,400.0 468.8,385.5 456.2,385.0 449.5,379.5 440.0,377.0 430.8,373.2 420.0,356.2 411.8,351.2 406.8,314.5 399.5,309.2 406.2,313.8 417.0,331.8 425.0,335.0 435.5,333.2 441.2,341.2 451.2,343.2 456.2,351.2 464.5,355.0 470.8,363.2 478.8,368.8 487.5,373.0 497.5,375.5 488.8,379.5 498.8,377.0 505.5,383.0 508.0,395.5 515.0,401.2 525.0,417.0 525.0,431.2 519.5,439.5 518.0,451.2 525.0,457.0 530.0,465.0 537.5,472.0 543.8,479.2 553.8,477.0 563.8,479.2 572.5,483.2 592.5,487.0 610.5,495.0 620.8,511.2 630.0,513.0 645.8,520.0 658.2,524.5 665.0,530.0 672.5,537.0 677.5,545.0 686.2,549.5 692.5,555.0 698.8,563.8 705.0,569.5 710.0,579.5 716.2,585.0 721.2,592.5 725.8,603.2 722.0,613.8 723.8,625.8 728.8,633.0 721.2,639.5 717.0,646.2 727.0,644.5 718.8,648.2 716.2,661.2 706.2,669.5 702.0,673.8 699.5,682.5 708.8,695.0 723.8,710.0 728.8,717.5 737.0,722.5 749.5,720.5 783.8,736.2 788.2,729.5 788.8,716.2 785.0,703.8 779.5,696.2 763.8,688.8 757.5,678.8 751.2,660.8 773.0,656.8 783.8,672.0 800.0,680.0 800.0,680.3 810.8,682.5 817.5,688.0 806.2,688.8 810.8,696.7 821.2,698.7 812.8,702.5 818.0,710.8 821.3,723.0 816.3,730.0 814.5,742.8 827.5,753.8 835.8,758.0 843.3,764.2 848.3,771.7 854.2,780.8 857.5,789.2 860.5,798.3 860.5,814.5 867.5,814.5 869.7,802.0 866.7,793.3 865.8,780.0 867.2,766.7 873.0,758.3 890.0,750.5 900.0,748.3 920.0,752.2 929.2,756.3 938.3,758.3"/>
<polyline points="322.0,129.5 325.5,120.0 331.5,111.5 334.7,101.5 344.5,99.5 358.5,112.0 367.0,115.5 387.5,119.5 473.2,159.2 482.5,155.8 496.2,143.8 505.0,139.5 512.0,133.2 519.5,129.5 526.2,135.5 538.8,135.5 545.0,141.2 553.8,145.8 561.2,153.8 569.5,157.5 576.2,151.2 579.5,147.5 582.5,156.2 588.0,165.5 605.5,173.2 608.8,182.5 610.8,195.5 622.5,195.5 631.2,199.5 639.5,195.5 648.8,200.0 662.0,211.5 671.2,210.0 680.5,206.2 690.0,199.5 700.0,197.5 708.8,193.2 715.0,187.5 712.0,162.5"/>
<polyline points="325.0,79.2 333.0,86.0 349.5,93.5 355.0,101.5 369.0,108.5 392.5,113.2 401.2,117.0 408.8,123.2 418.8,125.5 430.0,125.5 440.0,127.5 457.5,135.5 470.0,135.5 480.0,139.2 488.8,137.5 495.0,132.5 498.8,122.5 497.5,110.0 499.2,97.5 496.2,87.5 490.8,79.2"/>
<polyline points="449.5,101.2 452.0,101.2 456.2,109.5 447.5,113.8 449.5,101.2"/>
<polyline points="420.0,347.5 422.5,343.2 432.5,345.8 437.5,353.0 427.5,355.5 420.0,349.5 420.0,347.5"/>
<polyline points="673.8,79.2 674.5,90.0 677.5,107.5 683.8,126.2 691.2,141.2 700.0,154.5 703.0,163.8 712.5,161.8 717.0,164.5 722.5,173.8 728.8,191.8 723.8,183.8 723.2,197.5 720.2,207.0 728.8,203.8 733.8,211.8 735.8,223.8 742.0,242.0 747.5,251.2 751.2,261.2 756.2,270.0 760.0,279.5 769.5,295.0 785.0,319.2 792.5,326.2 817.5,365.0 824.5,371.2 835.0,369.2 838.8,380.0 869.5,427.5 878.0,431.2 881.2,440.8 886.2,449.2 895.0,453.0 915.5,457.0 921.2,465.8 938.0,479.2"/>
<polyline points="925.5,469.2 921.2,471.2 917.0,481.2 908.8,485.0 895.0,473.8 890.0,465.5 881.2,461.2 872.0,463.0 865.8,471.2 872.5,483.8 872.0,485.5 867.0,485.5 859.5,488.8 853.8,497.5 853.8,581.2 865.0,584.2 874.2,588.8 881.2,596.8 890.0,600.5 895.0,608.8 892.0,618.8 885.0,624.5 868.0,632.5 864.2,642.5 857.5,648.8 860.8,659.2 871.3,674.7 874.5,697.5 874.5,712.5 869.2,720.8 862.2,726.7 852.0,728.7 847.2,736.2 840.0,742.5 832.0,746.7 844.7,760.5 853.7,764.7 855.0,773.0 862.5,796.7 862.5,811.7 860.8,814.2"/>
</g>
<rect x="262.75" y="79.25" width="674.95" height="741.15" fill="none" stroke="#000" stroke-width="1.6"/>
<g stroke="#000" stroke-width="1.5">
<path d="M301.25,820.4 v5.6"/>
<path d="M359.08,820.4 v5.6"/>
<path d="M416.91,820.4 v5.6"/>
<path d="M474.74,820.4 v5.6"/>
<path d="M532.57,820.4 v5.6"/>
<path d="M590.40,820.4 v5.6"/>
<path d="M648.23,820.4 v5.6"/>
<path d="M706.06,820.4 v5.6"/>
<path d="M763.89,820.4 v5.6"/>
<path d="M821.72,820.4 v5.6"/>
<path d="M879.55,820.4 v5.6"/>
<path d="M262.75,124.30 h-5.3"/>
<path d="M262.75,191.67 h-5.3"/>
<path d="M262.75,259.04 h-5.3"/>
<path d="M262.75,326.41 h-5.3"/>
<path d="M262.75,393.78 h-5.3"/>
<path d="M262.75,461.15 h-5.3"/>
<path d="M262.75,528.52 h-5.3"/>
<path d="M262.75,595.89 h-5.3"/>
<path d="M262.75,663.26 h-5.3"/>
<path d="M262.75,730.63 h-5.3"/>
<path d="M262.75,798.00 h-5.3"/>
</g>
<g style="mix-blend-mode:multiply">
<text class="a" x="279.4" y="840.8" font-size="17.3" textLength="43.7" lengthAdjust="spacingAndGlyphs" text-anchor="start">85.8W</text>
<text class="a" x="337.2" y="840.8" font-size="17.3" textLength="43.7" lengthAdjust="spacingAndGlyphs" text-anchor="start">85.5W</text>
<text class="a" x="395.1" y="840.8" font-size="17.3" textLength="43.7" lengthAdjust="spacingAndGlyphs" text-anchor="start">85.2W</text>
<text class="a" x="452.9" y="840.8" font-size="17.3" textLength="43.7" lengthAdjust="spacingAndGlyphs" text-anchor="start">84.9W</text>
<text class="a" x="510.7" y="840.8" font-size="17.3" textLength="43.7" lengthAdjust="spacingAndGlyphs" text-anchor="start">84.6W</text>
<text class="a" x="568.5" y="840.8" font-size="17.3" textLength="43.7" lengthAdjust="spacingAndGlyphs" text-anchor="start">84.3W</text>
<text class="a" x="635.0" y="840.8" font-size="17.3" textLength="26.5" lengthAdjust="spacingAndGlyphs" text-anchor="start">84W</text>
<text class="a" x="684.2" y="840.8" font-size="17.3" textLength="43.7" lengthAdjust="spacingAndGlyphs" text-anchor="start">83.7W</text>
<text class="a" x="742.0" y="840.8" font-size="17.3" textLength="43.7" lengthAdjust="spacingAndGlyphs" text-anchor="start">83.4W</text>
<text class="a" x="799.9" y="840.8" font-size="17.3" textLength="43.7" lengthAdjust="spacingAndGlyphs" text-anchor="start">83.1W</text>
<text class="a" x="857.7" y="840.8" font-size="17.3" textLength="43.7" lengthAdjust="spacingAndGlyphs" text-anchor="start">82.8W</text>
<text class="a" x="209.8" y="130.3" font-size="17.3" textLength="42.8" lengthAdjust="spacingAndGlyphs" text-anchor="start">11.1N</text>
<text class="a" x="209.8" y="197.7" font-size="17.3" textLength="42.8" lengthAdjust="spacingAndGlyphs" text-anchor="start">10.8N</text>
<text class="a" x="209.8" y="265.0" font-size="17.3" textLength="42.8" lengthAdjust="spacingAndGlyphs" text-anchor="start">10.5N</text>
<text class="a" x="209.8" y="332.4" font-size="17.3" textLength="42.8" lengthAdjust="spacingAndGlyphs" text-anchor="start">10.2N</text>
<text class="a" x="218.6" y="399.8" font-size="17.3" textLength="34.0" lengthAdjust="spacingAndGlyphs" text-anchor="start">9.9N</text>
<text class="a" x="218.6" y="467.2" font-size="17.3" textLength="34.0" lengthAdjust="spacingAndGlyphs" text-anchor="start">9.6N</text>
<text class="a" x="218.6" y="534.5" font-size="17.3" textLength="34.0" lengthAdjust="spacingAndGlyphs" text-anchor="start">9.3N</text>
<text class="a" x="234.1" y="601.9" font-size="17.3" textLength="18.5" lengthAdjust="spacingAndGlyphs" text-anchor="start">9N</text>
<text class="a" x="218.6" y="669.3" font-size="17.3" textLength="34.0" lengthAdjust="spacingAndGlyphs" text-anchor="start">8.7N</text>
<text class="a" x="218.6" y="736.6" font-size="17.3" textLength="34.0" lengthAdjust="spacingAndGlyphs" text-anchor="start">8.4N</text>
<text class="a" x="218.6" y="804.0" font-size="17.3" textLength="34.0" lengthAdjust="spacingAndGlyphs" text-anchor="start">8.1N</text>
<text class="t" x="132.4" y="30.2" font-size="33" textLength="48.4" lengthAdjust="spacingAndGlyphs" text-anchor="start">IMN</text>
<text class="t" x="203.9" y="30.2" font-size="33" textLength="148.9" lengthAdjust="spacingAndGlyphs" text-anchor="start">SARAPIQUI</text>
<text class="t" x="373.9" y="30.2" font-size="33" textLength="17.6" lengthAdjust="spacingAndGlyphs" text-anchor="start">5</text>
<text class="t" x="410.5" y="30.2" font-size="33" textLength="190.1" lengthAdjust="spacingAndGlyphs" text-anchor="start">Precipitacion</text>
<text class="t" x="616.5" y="30.2" font-size="33" textLength="162.4" lengthAdjust="spacingAndGlyphs" text-anchor="start">Acumulada</text>
<text class="t" x="796.5" y="30.2" font-size="33" textLength="35.1" lengthAdjust="spacingAndGlyphs" text-anchor="start">en</text>
<text class="t" x="849.9" y="30.2" font-size="33" textLength="17.7" lengthAdjust="spacingAndGlyphs" text-anchor="start">6</text>
<text class="t" x="886.5" y="30.2" font-size="33" textLength="81.8" lengthAdjust="spacingAndGlyphs" text-anchor="start">horas</text>
<text class="t" x="986.5" y="30.2" font-size="33" textLength="81.8" lengthAdjust="spacingAndGlyphs" text-anchor="start">(mm)</text>
<text class="t" x="461.9" y="62.2" font-size="33" textLength="75.4" lengthAdjust="spacingAndGlyphs" text-anchor="start">2026</text>
<text class="t" x="563.2" y="62.2" font-size="33" textLength="33.4" lengthAdjust="spacingAndGlyphs" text-anchor="start">01</text>
<text class="t" x="626.2" y="62.2" font-size="33" textLength="37.4" lengthAdjust="spacingAndGlyphs" text-anchor="start">23</text>
<text class="t" x="682.7" y="62.2" font-size="33" textLength="55.1" lengthAdjust="spacingAndGlyphs" text-anchor="start">15Z</text>
<path d="M184.5,36.6 L201.6,4.1 M353,36.7 H372.5 M541.75,52 H559.25 M605,52 H622.5" stroke="#000" stroke-width="1.25" fill="none"/>
<text class="f" x="327.3" y="877.2" font-size="24" textLength="102.7" lengthAdjust="spacingAndGlyphs" text-anchor="start">Instituto</text>
<text class="f" x="445.3" y="877.2" font-size="24" textLength="174.7" lengthAdjust="spacingAndGlyphs" text-anchor="start">Meteorologico</text>
<text class="f" x="635.3" y="877.2" font-size="24" textLength="107.2" lengthAdjust="spacingAndGlyphs" text-anchor="start">Nacional</text>
<text class="f" x="757.8" y="877.2" font-size="24" textLength="71.4" lengthAdjust="spacingAndGlyphs" text-anchor="start">Costa</text>
<text class="f" x="844.8" y="877.2" font-size="24" textLength="53.4" lengthAdjust="spacingAndGlyphs" text-anchor="start">Rica</text>
</g>
<g stroke="#000" stroke-width="1.2" stroke-linejoin="miter">
<rect x="1057.8" y="725.41" width="22.20" height="42.39" fill="#66ffff"/>
<rect x="1057.8" y="683.03" width="22.20" height="42.39" fill="#3399ff"/>
<rect x="1057.8" y="640.64" width="22.20" height="42.39" fill="#0000ff"/>
<rect x="1057.8" y="598.25" width="22.20" height="42.39" fill="#00ff00"/>
<rect x="1057.8" y="555.87" width="22.20" height="42.39" fill="#00cc00"/>
<rect x="1057.8" y="513.48" width="22.20" height="42.39" fill="#009900"/>
<rect x="1057.8" y="471.09" width="22.20" height="42.39" fill="#ffff00"/>
<rect x="1057.8" y="428.71" width="22.20" height="42.39" fill="#ffcc00"/>
<rect x="1057.8" y="386.32" width="22.20" height="42.39" fill="#ff6600"/>
<rect x="1057.8" y="343.93" width="22.20" height="42.39" fill="#ff0000"/>
<rect x="1057.8" y="301.55" width="22.20" height="42.39" fill="#cc3300"/>
<rect x="1057.8" y="259.16" width="22.20" height="42.39" fill="#990000"/>
<rect x="1057.8" y="216.77" width="22.20" height="42.39" fill="#ff00ff"/>
<rect x="1057.8" y="174.39" width="22.20" height="42.39" fill="#9933cc"/>
<rect x="1057.8" y="132.00" width="22.20" height="42.39" fill="#f3f3f3"/>
<path d="M1057.8,132.0 L1068.90,90 L1080.0,132.0Z" fill="#aaaaaa"/>
<path d="M1057.8,767.8 L1068.90,810 L1080.0,767.8Z" fill="#ffffff"/>
</g>
<g style="mix-blend-mode:multiply">
<text class="c" x="1085.6" y="774.4" font-size="18.6" textLength="32.2" lengthAdjust="spacingAndGlyphs" text-anchor="start">3.5</text>
<text class="c" x="1085.6" y="732.0" font-size="18.6" textLength="12.7" lengthAdjust="spacingAndGlyphs" text-anchor="start">7</text>
<text class="c" x="1085.6" y="689.6" font-size="18.6" textLength="45.7" lengthAdjust="spacingAndGlyphs" text-anchor="start">12.5</text>
<text class="c" x="1085.6" y="647.2" font-size="18.6" textLength="25.9" lengthAdjust="spacingAndGlyphs" text-anchor="start">15</text>
<text class="c" x="1085.6" y="604.9" font-size="18.6" textLength="25.9" lengthAdjust="spacingAndGlyphs" text-anchor="start">20</text>
<text class="c" x="1085.6" y="562.5" font-size="18.6" textLength="25.9" lengthAdjust="spacingAndGlyphs" text-anchor="start">25</text>
<text class="c" x="1085.6" y="520.1" font-size="18.6" textLength="25.9" lengthAdjust="spacingAndGlyphs" text-anchor="start">30</text>
<text class="c" x="1085.6" y="477.7" font-size="18.6" textLength="25.9" lengthAdjust="spacingAndGlyphs" text-anchor="start">40</text>
<text class="c" x="1085.6" y="435.3" font-size="18.6" textLength="25.9" lengthAdjust="spacingAndGlyphs" text-anchor="start">50</text>
<text class="c" x="1085.6" y="392.9" font-size="18.6" textLength="25.9" lengthAdjust="spacingAndGlyphs" text-anchor="start">60</text>
<text class="c" x="1085.6" y="350.5" font-size="18.6" textLength="25.9" lengthAdjust="spacingAndGlyphs" text-anchor="start">75</text>
<text class="c" x="1085.6" y="308.1" font-size="18.6" textLength="25.9" lengthAdjust="spacingAndGlyphs" text-anchor="start">90</text>
<text class="c" x="1085.6" y="265.8" font-size="18.6" textLength="38.9" lengthAdjust="spacingAndGlyphs" text-anchor="start">100</text>
<text class="c" x="1085.6" y="223.4" font-size="18.6" textLength="38.9" lengthAdjust="spacingAndGlyphs" text-anchor="start">120</text>
<text class="c" x="1085.6" y="181.0" font-size="18.6" textLength="38.9" lengthAdjust="spacingAndGlyphs" text-anchor="start">150</text>
<text class="c" x="1085.6" y="138.6" font-size="18.6" textLength="38.9" lengthAdjust="spacingAndGlyphs" text-anchor="start">200</text>
</g>
</svg>
</body></html>
